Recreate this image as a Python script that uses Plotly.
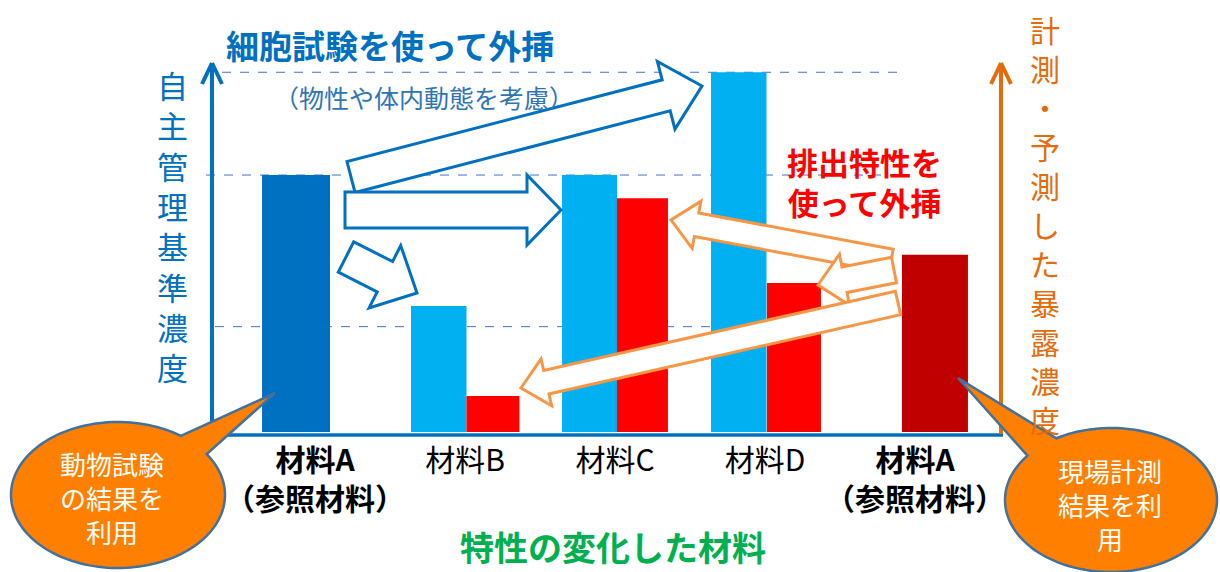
import numpy as np
import plotly.graph_objects as go

W, H = 1220, 572
FONT = "Noto Sans CJK JP"

# categories along the x axis
categories = ['A', 'B', 'C', 'D', 'A_ref']
tick_labels = ['<b>材料A<br>（参照材料）</b>', '材料B', '材料C', '材料D', '<b>材料A<br>（参照材料）</b>']

# 自主管理基準濃度 (blue bars)
blue_x = ['A', 'B', 'C', 'D']
blue_y = [100, 49, 100, 140]

# 計測・予測した暴露濃度 (red bars)
red_x = ['B', 'C', 'D', 'A_ref']
red_y = [14, 91, 58, 69]

# dashed reference levels
guide_levels = [140, 100, 41]


def to_paper(x, y):
    return x / W, 1 - y / H


def path_str(points):
    parts = []
    for x, y in points:
        px, py = to_paper(x, y)
        parts.append(f'{px:.5f},{py:.5f}')
    return 'M ' + ' L '.join(parts) + ' Z'


def block_arrow(tail, tip, shaft, head, head_len):
    t = np.array(tail, float)
    p = np.array(tip, float)
    d = p - t
    u = d / np.hypot(*d)
    n = np.array([-u[1], u[0]])
    b = p - u * head_len
    pts = [t + n * shaft, b + n * shaft, b + n * head, p,
           b - n * head, b - n * shaft, t - n * shaft]
    return path_str(pts)


def callout(center, rx, ry, a0, a1, tip, n=140):
    ang = np.radians(np.linspace(a1, a0 + 360, n))
    pts = [(center[0] + rx * np.cos(a), center[1] + ry * np.sin(a)) for a in ang]
    pts.append(tip)
    return path_str(pts)


fig = go.Figure()

fig.add_trace(go.Bar(
    x=blue_x, y=blue_y,
    marker_color=['#0070C0', '#00B0F0', '#00B0F0', '#00B0F0'],
    offset=[-0.353, -0.36, -0.353, -0.36],
    width=[0.453, 0.37, 0.367, 0.37],
    marker_line_width=0, showlegend=False,
))
fig.add_trace(go.Bar(
    x=red_x, y=red_y,
    marker_color=['#FF0000', '#FF0000', '#FF0000', '#C00000'],
    offset=[0.01, 0.013, 0.013, -0.087],
    width=[0.353, 0.34, 0.36, 0.44],
    marker_line_width=0, showlegend=False,
))

shapes = []

# dashed guide lines
for lvl, (x0, x1) in zip(guide_levels, [(222, 904), (206, 906), (215, 858)]):
    shapes.append(dict(type='line', xref='paper', yref='y',
                       x0=x0 / W, x1=x1 / W, y0=lvl, y1=lvl,
                       line=dict(color='#4472C4', width=1, dash='dash'), layer='below'))

# axes drawn as lines with open arrow heads
def seg(p0, p1, color, width):
    a = to_paper(*p0)
    b = to_paper(*p1)
    return dict(type='line', xref='paper', yref='paper', x0=a[0], y0=a[1], x1=b[0], y1=b[1],
                line=dict(color=color, width=width))

shapes.append(seg((212, 437), (212, 64), '#0070C0', 4))
shapes.append(seg((202, 84), (212, 63), '#0070C0', 4))
shapes.append(seg((222, 84), (212, 63), '#0070C0', 4))
shapes.append(seg((210, 435), (1003, 435), '#0070C0', 3.5))
shapes.append(seg((1001, 434), (1001, 64), '#E46C0A', 4))
shapes.append(seg((991, 84), (1001, 63), '#E46C0A', 4))
shapes.append(seg((1011, 84), (1001, 63), '#E46C0A', 4))

# blue block arrows
for tail, tip, sw, hw, hl in [((351, 177), (702, 86), 16, 35, 37),
                              ((345, 210), (561, 210), 18, 35, 34),
                              ((346, 257), (417, 293), 17, 35, 36)]:
    shapes.append(dict(type='path', xref='paper', yref='paper',
                       path=block_arrow(tail, tip, sw, hw, hl),
                       fillcolor='white', line=dict(color='#0070C0', width=3)))

# orange block arrows
for tail, tip, sw, hw, hl in [((891, 261), (671, 220), 12, 24, 26),
                              ((894, 270), (818, 285), 13, 26, 27),
                              ((898, 303), (521, 388), 12, 24, 26)]:
    shapes.append(dict(type='path', xref='paper', yref='paper',
                       path=block_arrow(tail, tip, sw, hw, hl),
                       fillcolor='white', line=dict(color='#F79646', width=3)))

# callout bubbles
shapes.append(dict(type='path', xref='paper', yref='paper',
                   path=callout((118, 495), 107, 73, -54, -34, (275, 393)),
                   fillcolor='#FF8000', line=dict(color='#41719C', width=2.5)))
shapes.append(dict(type='path', xref='paper', yref='paper',
                   path=callout((1111, 500), 106, 72, -142, -121, (958, 378)),
                   fillcolor='#FF8000', line=dict(color='#41719C', width=2.5)))


def note(text, x, y, size, color):
    px, py = to_paper(x, y)
    return dict(text=text, x=px, y=py, xref='paper', yref='paper', showarrow=False,
                xanchor='center', yanchor='middle',
                font=dict(family=FONT, size=size, color=color))

annotations = [
    note('<b>細胞試験を使って外挿</b>', 390, 45, 33, '#0070C0'),
    note('（物性や体内動態を考慮）', 424, 97, 25, '#2E75B6'),
    note('<b>排出特性を<br>使って外挿</b>', 864, 182, 31, '#FF0000'),
    note('<b>特性の変化した材料</b>', 613, 546, 34, '#00B050'),
    note('<br>'.join('自主管理基準濃度'), 172, 225, 31, '#0070C0'),
    note('<br>'.join('計測・予測した暴露濃度'), 1045, 224, 30, '#E46C0A'),
    note('動物試験<br>の結果を<br>利用', 112, 497, 26, 'white'),
    note('現場計測<br>結果を利<br>用', 1110, 504, 26, 'white'),
]

fig.update_layout(
    width=W, height=H,
    margin=dict(l=0, r=0, t=0, b=0),
    paper_bgcolor='white', plot_bgcolor='white',
    barmode='overlay',
    shapes=shapes, annotations=annotations,
    font=dict(family=FONT),
    xaxis=dict(domain=[212 / W, 1003 / W], type='category',
               categoryorder='array', categoryarray=categories,
               tickvals=categories, ticktext=tick_labels,
               range=[-0.6867, 4.5867], showgrid=False, zeroline=False,
               showline=False, ticks='', automargin=False, ticklabelstandoff=8,
               tickfont=dict(family=FONT, size=30, color='black')),
    yaxis=dict(domain=[1 - 432 / H, 1 - 63 / H], range=[0, 143.6],
               showgrid=False, zeroline=False, showline=False,
               showticklabels=False, automargin=False),
)

# drop the page's default body margin so the figure sits at the top-left corner
fig.write_html("out.html", config={'displayModeBar': False},
               post_script="document.body.style.margin = '0';")
